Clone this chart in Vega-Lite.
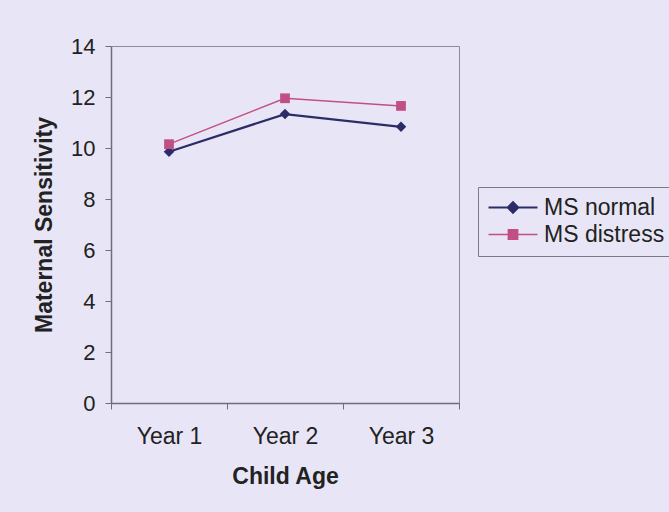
{
  "$schema": "https://vega.github.io/schema/vega-lite/v6.json",
  "autosize": "none",
  "width": 348,
  "height": 357,
  "padding": {"left": 111, "top": 46, "right": 210, "bottom": 109},
  "background": "#E8E6F6",
  "config": {
    "font": "Liberation Sans",
    "view": {"stroke": "#8C8C9C", "strokeWidth": 1}
  },
  "data": {
    "values": [
      {"age": "Year 1", "series": "MS normal", "value": 9.85},
      {"age": "Year 2", "series": "MS normal", "value": 11.33},
      {"age": "Year 3", "series": "MS normal", "value": 10.83},
      {"age": "Year 1", "series": "MS distress", "value": 10.15},
      {"age": "Year 2", "series": "MS distress", "value": 11.95},
      {"age": "Year 3", "series": "MS distress", "value": 11.65}
    ]
  },
  "encoding": {
    "x": {
      "field": "age",
      "type": "ordinal",
      "sort": null,
      "bandPosition": 0.5,
      "scale": {"type": "band", "paddingInner": 0, "paddingOuter": 0},
      "axis": {
        "title": "Child Age",
        "tickBand": "extent",
        "labelAngle": 0,
        "labelFontSize": 23,
        "labelColor": "#222222",
        "labelPadding": 16,
        "tickSize": 6,
        "tickColor": "#6E6E7E",
        "domainColor": "#6E6E7E",
        "domainWidth": 1.5,
        "titleFontSize": 23,
        "titleFontWeight": "bold",
        "titleColor": "#222222",
        "titlePadding": 17
      }
    },
    "y": {
      "field": "value",
      "type": "quantitative",
      "scale": {"domain": [0, 14], "nice": false},
      "axis": {
        "title": "Maternal Sensitivity",
        "values": [0, 2, 4, 6, 8, 10, 12, 14],
        "grid": false,
        "labelFontSize": 22,
        "labelColor": "#222222",
        "labelPadding": 10,
        "tickSize": 6,
        "tickColor": "#6E6E7E",
        "domainColor": "#6E6E7E",
        "domainWidth": 1.5,
        "titleFontSize": 23,
        "titleFontWeight": "bold",
        "titleColor": "#222222",
        "titlePadding": 14
      }
    },
    "color": {
      "field": "series",
      "type": "nominal",
      "scale": {"domain": ["MS normal", "MS distress"], "range": ["#2C2C68", "#C24F83"]},
      "legend": {
        "orient": "none",
        "legendX": 367,
        "legendY": 141,
        "title": null,
        "strokeColor": "#7A7A88",
        "fillColor": "#E8E6F6",
        "padding": 9,
        "cornerRadius": 0,
        "clipHeight": 23,
        "rowPadding": 3,
        "symbolSize": 2401,
        "labelOffset": 5,
        "labelFontSize": 23,
        "labelColor": "#222222",
        "encode": {
          "symbols": {
            "update": {
              "shape": {"signal": "datum.value === 'MS normal' ? 'M-1,0L-0.2,0M0.2,0L1,0M0,-0.21L0.21,0L0,0.21L-0.21,0ZM0,-0.14L0.14,0L0,0.14L-0.14,0ZM0,-0.07L0.07,0L0,0.07L-0.07,0Z' : 'M-1,0L-0.19,0M0.19,0L1,0M-0.19,-0.19L0.19,-0.19L0.19,0.19L-0.19,0.19ZM-0.12,-0.12L0.12,-0.12L0.12,0.12L-0.12,0.12ZM-0.05,-0.05L0.05,-0.05L0.05,0.05L-0.05,0.05Z'"},
              "fill": {"value": "transparent"},
              "stroke": {"scale": "color", "field": "value"},
              "strokeWidth": {"value": 1.8},
              "opacity": {"value": 1}
            }
          }
        }
      }
    }
  },
  "layer": [
    {
      "mark": {"type": "line"},
      "encoding": {
        "strokeWidth": {
          "field": "series",
          "type": "nominal",
          "scale": {"domain": ["MS normal", "MS distress"], "range": [2.2, 1.5]},
          "legend": null
        }
      }
    },
    {
      "transform": [{"filter": "datum.series === 'MS normal'"}],
      "mark": {"type": "point", "filled": true, "opacity": 1, "size": 110, "shape": "diamond"}
    },
    {
      "transform": [{"filter": "datum.series === 'MS distress'"}],
      "mark": {"type": "point", "filled": true, "opacity": 1, "size": 95, "shape": "square"}
    }
  ]
}
